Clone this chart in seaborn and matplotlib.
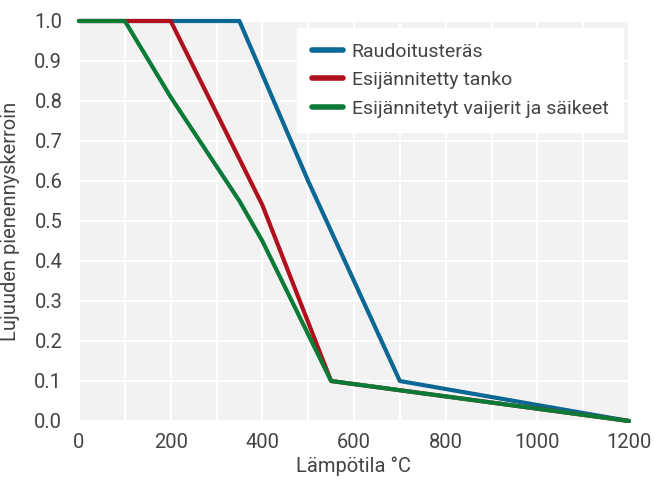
import numpy as np
import pandas as pd
import matplotlib
matplotlib.use('Agg')
import matplotlib.pyplot as plt
import seaborn as sns

# lämpötilat ja pienennyskertoimet
temp_raud = [0, 350, 500, 700, 1200]
k_raud = [1.0, 1.0, 0.6, 0.1, 0.0]
temp_tanko = [0, 200, 400, 550, 1200]
k_tanko = [1.0, 1.0, 0.54, 0.1, 0.0]
temp_vaij = [0, 100, 200, 350, 400, 550, 1200]
k_vaij = [1.0, 1.0, 0.81, 0.55, 0.45, 0.1, 0.0]

sarjat = ['Raudoitusteräs', 'Esijännitetty tanko', 'Esijännitetyt vaijerit ja säikeet']
varit = ['#0b6793', '#b0101c', '#0b7a36']

df = pd.concat([
    pd.DataFrame({'T': temp_raud, 'k': k_raud, 'sarja': sarjat[0]}),
    pd.DataFrame({'T': temp_tanko, 'k': k_tanko, 'sarja': sarjat[1]}),
    pd.DataFrame({'T': temp_vaij, 'k': k_vaij, 'sarja': sarjat[2]}),
])

sns.set_style('darkgrid', {'axes.facecolor': '#f2f2f2', 'grid.color': 'white'})
plt.rcParams['font.family'] = ['Roboto', 'DejaVu Sans']
tekstivari = '#444444'

fig = plt.figure(figsize=(6.54, 4.79), dpi=100)
ax = fig.add_axes([79 / 654, 1 - 421 / 479, 550 / 654, 400 / 479])
sns.lineplot(data=df, x='T', y='k', hue='sarja', palette=varit, linewidth=3,
             sort=False, estimator=None, ax=ax, clip_on=False)

ax.set_xlim(0, 1200)
ax.set_ylim(0, 1.0)
ax.set_xticks(np.arange(0, 1201, 200))
ax.set_xticks(np.arange(0, 1201, 100), minor=True)
ax.set_yticks(np.arange(0, 1.01, 0.1))
ax.set_yticklabels([f'{v:.1f}' for v in np.arange(0, 1.01, 0.1)])
ax.grid(True, which='both', color='white', linewidth=1.5)
ax.tick_params(axis='both', which='both', length=0, labelsize=14.5, labelcolor=tekstivari)
ax.tick_params(axis='x', pad=9)
ax.tick_params(axis='y', pad=12)
for s in ax.spines.values():
    s.set_visible(False)

ax.set_xlabel('Lämpötila °C', fontsize=14.5, color=tekstivari, labelpad=3)
ax.set_ylabel('Lujuuden pienennyskerroin', fontsize=14.5, color=tekstivari, labelpad=10)

leg = ax.legend(loc='upper right', bbox_to_anchor=(0.989, 0.9825), borderaxespad=0,
                fontsize=14, frameon=True, fancybox=False, framealpha=1,
                facecolor='white', edgecolor='white',
                handlelength=1.6, handletextpad=0.45, borderpad=0.75, labelspacing=0.54)
for t in leg.get_texts():
    t.set_color(tekstivari)
for l in leg.get_lines():
    l.set_linewidth(4)
    l.set_solid_capstyle('round')

fig.savefig('out.png', dpi=100)
